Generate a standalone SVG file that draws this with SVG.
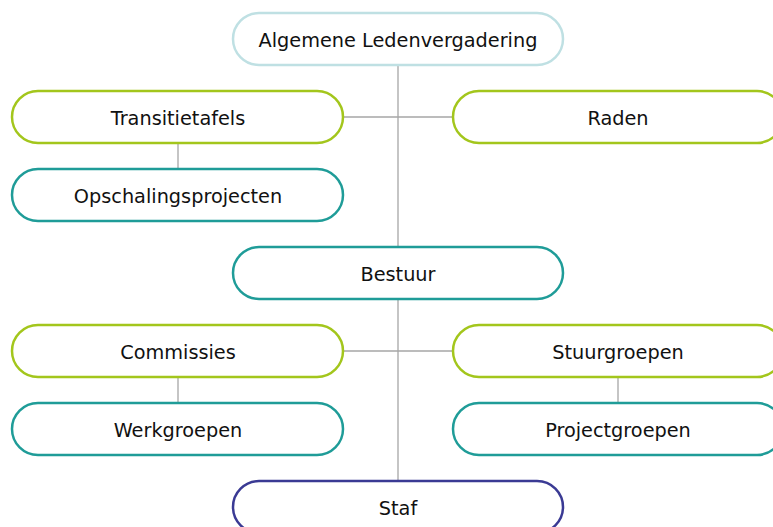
<svg xmlns="http://www.w3.org/2000/svg" width="773" height="527" viewBox="0 0 773 527">
<style>
.n rect{fill:#fff;stroke-width:2.5}
.green rect{stroke:#a3c61c}
.teal rect{stroke:#1f9c98}
.light rect{stroke:#bfe0e3}
.navy rect{stroke:#3a3a94}
.n text{font-family:"DejaVu Sans",Verdana,sans-serif;font-size:19.3px;fill:#111;text-anchor:middle;dominant-baseline:central}
.c line{stroke:#a6a6a6;stroke-width:1.3}
</style>
<rect width="773" height="527" fill="#fff"/>
<g class="c" id="connectors">
<line x1="398" y1="65" x2="398" y2="481"/>
<line x1="343" y1="117" x2="453" y2="117"/>
<line x1="343" y1="351" x2="453" y2="351"/>
<line x1="178" y1="143" x2="178" y2="169"/>
<line x1="178" y1="377" x2="178" y2="403"/>
<line x1="618" y1="377" x2="618" y2="403"/>
</g>
<g id="alv" class="n light"><rect x="233" y="13" width="330" height="52" rx="26"/><text x="398" y="40">Algemene Ledenvergadering</text></g>
<g id="transitietafels" class="n green"><rect x="12" y="91" width="331" height="52" rx="26"/><text x="178" y="118">Transitietafels</text></g>
<g id="raden" class="n green"><rect x="453" y="91" width="330" height="52" rx="26"/><text x="618" y="118">Raden</text></g>
<g id="opschalingsprojecten" class="n teal"><rect x="12" y="169" width="331" height="52" rx="26"/><text x="178" y="196">Opschalingsprojecten</text></g>
<g id="bestuur" class="n teal"><rect x="233" y="247" width="330" height="52" rx="26"/><text x="398" y="274">Bestuur</text></g>
<g id="commissies" class="n green"><rect x="12" y="325" width="331" height="52" rx="26"/><text x="178" y="352">Commissies</text></g>
<g id="stuurgroepen" class="n green"><rect x="453" y="325" width="330" height="52" rx="26"/><text x="618" y="352">Stuurgroepen</text></g>
<g id="werkgroepen" class="n teal"><rect x="12" y="403" width="331" height="52" rx="26"/><text x="178" y="430">Werkgroepen</text></g>
<g id="projectgroepen" class="n teal"><rect x="453" y="403" width="330" height="52" rx="26"/><text x="618" y="430">Projectgroepen</text></g>
<g id="staf" class="n navy"><rect x="233" y="481" width="330" height="52" rx="26"/><text x="398" y="508">Staf</text></g>
</svg>
